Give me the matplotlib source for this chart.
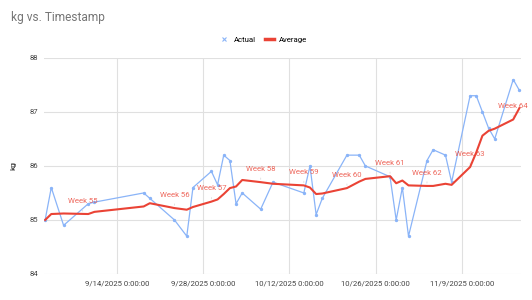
import matplotlib
matplotlib.use("Agg")
import matplotlib.pyplot as plt
import matplotlib.dates as mdates
from matplotlib.lines import Line2D
import pandas as pd

plt.rcParams['font.family'] = ['Roboto', 'DejaVu Sans']

# --- data ---
dates = ["2025-09-02", "2025-09-03", "2025-09-05", "2025-09-09", "2025-09-10",
         "2025-09-18", "2025-09-19", "2025-09-23", "2025-09-25", "2025-09-26",
         "2025-09-29", "2025-09-30", "2025-10-01", "2025-10-02", "2025-10-03",
         "2025-10-04", "2025-10-07", "2025-10-09", "2025-10-14", "2025-10-15",
         "2025-10-16", "2025-10-17", "2025-10-21", "2025-10-23", "2025-10-24",
         "2025-10-28", "2025-10-29", "2025-10-30", "2025-10-31", "2025-11-03",
         "2025-11-04", "2025-11-06", "2025-11-07", "2025-11-10", "2025-11-11",
         "2025-11-12", "2025-11-13", "2025-11-14", "2025-11-17", "2025-11-18"]
actual = [85.0, 85.6, 84.9, 85.3, 85.33,
          85.5, 85.4, 85.0, 84.7, 85.6,
          85.9, 85.65, 86.2, 86.1, 85.3,
          85.5, 85.2, 85.7, 85.5, 86.0,
          85.1, 85.4, 86.2, 86.2, 86.0,
          85.8, 85.0, 85.6, 84.7, 86.1,
          86.3, 86.2, 85.7, 87.3, 87.3,
          87.0, 86.7, 86.5, 87.6, 87.4]
average = [85.0, 85.11, 85.12, 85.11, 85.15,
           85.25, 85.31, 85.22, 85.19, 85.24,
           85.34, 85.38, 85.48, 85.59, 85.62,
           85.74, 85.7, 85.67, 85.64, 85.6,
           85.48, 85.49, 85.59, 85.71, 85.76,
           85.81, 85.68, 85.73, 85.64, 85.63,
           85.63, 85.67, 85.65, 85.98, 86.25,
           86.56, 86.65, 86.69, 86.86, 87.07]

week_labels = ["Week 55", "Week 56", "Week 57", "Week 58", "Week 59",
               "Week 60", "Week 61", "Week 62", "Week 63", "Week 64"]
week_dates = ["2025-09-08 10:00", "2025-09-23 08:00", "2025-09-29 08:00",
              "2025-10-07 08:00", "2025-10-14 08:00", "2025-10-21 08:00",
              "2025-10-28 08:00", "2025-11-03 08:00", "2025-11-10 08:00",
              "2025-11-17 08:00"]
week_values = [85.11, 85.22, 85.34, 85.7, 85.64, 85.59, 85.81, 85.63, 85.98, 86.86]

tick_dates = ["2025-09-14", "2025-09-28", "2025-10-12", "2025-10-26", "2025-11-09"]
y_ticks = [84, 85, 86, 87, 88]

ts = pd.to_datetime(dates) + pd.Timedelta(hours=8)
wk = pd.to_datetime(week_dates)
ticks = pd.to_datetime(tick_dates)

BLUE = '#8ab4f8'
RED = '#ea4335'

fig = plt.figure(figsize=(5.32, 3.0), dpi=100)
ax = fig.add_axes([0.0827, 0.0867, 0.979 - 0.0827, 0.807 - 0.0867])

ax.plot(ts, actual, color=BLUE, lw=0.9, marker='o', ms=1.4, zorder=3)
ax.plot(ts, average, color=RED, lw=1.5, zorder=4)

for lab, d, v in zip(week_labels, wk, week_values):
    ax.annotate(lab, xy=(d, v), xytext=(0, 9.5), textcoords='offset points',
                ha='center', va='center', color=RED, fontsize=5.6, alpha=0.8,
                zorder=5)
    ax.annotate('', xy=(d, v), xytext=(0, 5), textcoords='offset points',
                arrowprops=dict(arrowstyle='-', color='#dddddd', lw=0.6))

ax.set_xlim(pd.Timestamp("2025-09-02 03:36"), pd.Timestamp("2025-11-18 13:40"))
ax.set_ylim(84, 88)
ax.set_yticks(y_ticks)
ax.set_yticklabels([str(v) for v in y_ticks])
ax.set_xticks(ticks)
ax.set_xticklabels([f"{t.month}/{t.day}/{t.year} 0:00:00" for t in ticks])

ax.grid(True, color='#e0e0e0', lw=0.8)
ax.set_axisbelow(True)
for s in ax.spines.values():
    s.set_visible(False)
ax.tick_params(length=0, labelsize=5.6, labelcolor='#444444', pad=4)
ax.tick_params(axis='x', pad=5)
ax.set_ylabel('kg', fontsize=6, color='#222222', labelpad=10)

fig.text(0.021, 0.94, 'kg vs. Timestamp', fontsize=8.6, color='#757575',
         ha='left', va='center')

handles = [Line2D([], [], color=BLUE, marker='x', ms=3, lw=0, mew=0.8),
           Line2D([], [], color=RED, lw=2.5)]
fig.legend(handles, ['Actual', 'Average'], loc='center', bbox_to_anchor=(0.495, 0.868),
           ncol=2, frameon=False, fontsize=5.6, handlelength=1.2, handletextpad=0.6,
           columnspacing=1.2)

fig.savefig('out.png', dpi=100)
